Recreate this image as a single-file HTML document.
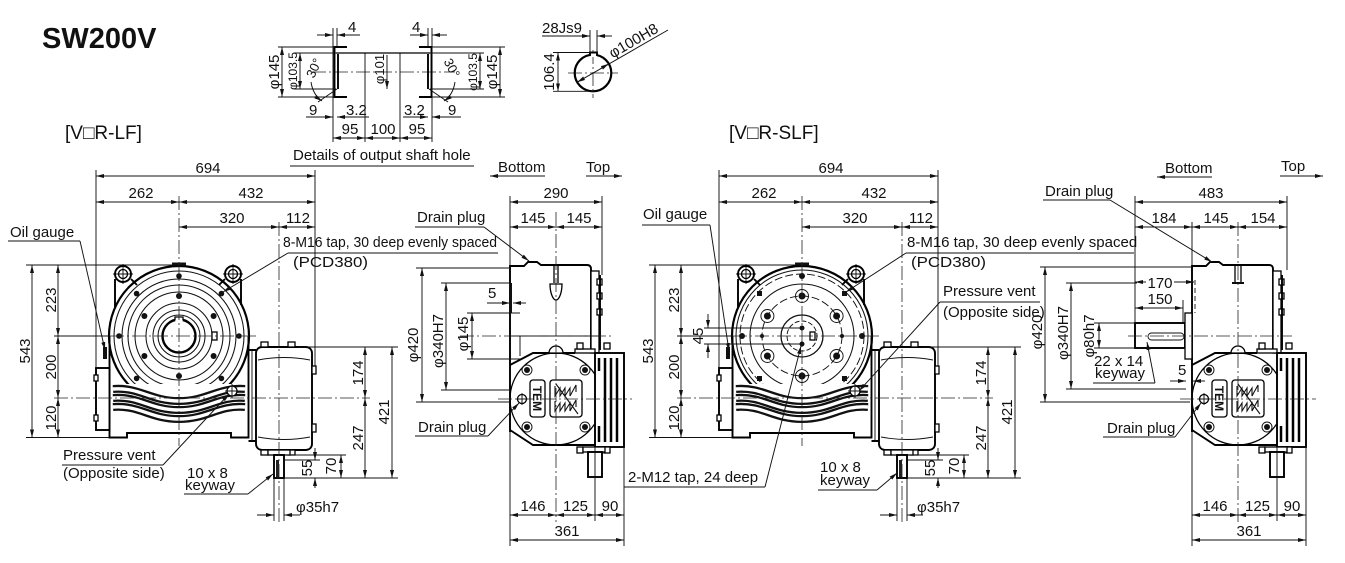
<!DOCTYPE html>
<html><head><meta charset="utf-8">
<style>
html,body{margin:0;padding:0;background:#fff;}
svg{display:block}
.t{stroke:#111;stroke-width:.95;fill:none}
.k{stroke:#000;stroke-width:1.9;fill:none}
.m{stroke:#000;stroke-width:1.3;fill:none}
.w{fill:#fff}
.c{stroke:#222;stroke-width:.8;fill:none;stroke-dasharray:14 3 2 3}
.ds{stroke:#111;stroke-width:.9;fill:none;stroke-dasharray:5 3}
.dm{stroke:#111;stroke-width:.95;fill:none;marker-start:url(#ar);marker-end:url(#ar)}
.da{stroke:#111;stroke-width:.95;fill:none;marker-end:url(#ar)}
.f{fill:#111}
text{font-family:"Liberation Sans",Arial,sans-serif;font-size:15px;fill:#111}
.mid{text-anchor:middle}
.s12{font-size:12px}
</style></head><body>
<svg width="1345" height="563" viewBox="0 0 1345 563" xmlns="http://www.w3.org/2000/svg">
<defs>
<marker id="ar" viewBox="0 0 8 4" refX="8" refY="2" markerWidth="8" markerHeight="4" markerUnits="userSpaceOnUse" orient="auto-start-reverse"><path d="M0,0L8,2L0,4z" fill="#111"/></marker>
</defs>
<rect width="1345" height="563" fill="#fff"/>

<!-- ===== Titles ===== -->
<text x="42" y="48" style="font-size:29px;font-weight:bold;fill:#111">SW200V</text>
<text x="65" y="139" style="font-size:19px">[V□R-LF]</text>
<text x="729" y="139" style="font-size:19px">[V□R-SLF]</text>

<!-- ===== Output shaft hole detail ===== -->
<line class="c" x1="312" y1="72" x2="455" y2="72"/>
<line class="t" x1="333" y1="28" x2="333" y2="142"/>
<line class="t" x1="337" y1="28" x2="337" y2="47"/>
<line class="t" x1="432" y1="28" x2="432" y2="142"/>
<line class="t" x1="428" y1="28" x2="428" y2="47"/>
<line class="t" x1="365" y1="53" x2="365" y2="142"/>
<line class="t" x1="400" y1="53" x2="400" y2="142"/>
<line class="m" x1="336" y1="53" x2="430" y2="53"/>
<path class="k" d="M347,47H334.5V97H347"/>
<path class="k" d="M419,47H431.5V97H419"/>
<line class="k" x1="338" y1="54" x2="338" y2="89"/>
<line class="k" x1="428" y1="54" x2="428" y2="89"/>
<line class="t" x1="278" y1="47" x2="333" y2="47"/>
<line class="t" x1="278" y1="97" x2="333" y2="97"/>
<line class="t" x1="294" y1="53" x2="336" y2="53"/>
<line class="t" x1="294" y1="89" x2="336" y2="89"/>
<line class="t" x1="432" y1="47" x2="505" y2="47"/>
<line class="t" x1="432" y1="97" x2="505" y2="97"/>
<line class="t" x1="430" y1="53" x2="484" y2="53"/>
<line class="t" x1="430" y1="89" x2="484" y2="89"/>
<line class="dm" x1="282" y1="47" x2="282" y2="97"/>
<text class="mid" transform="translate(279,72) rotate(-90)">φ145</text>
<line class="dm" x1="300" y1="53" x2="300" y2="89"/>
<text class="mid s12" transform="translate(297,71) rotate(-90)">φ103.5</text>
<line class="da" x1="387" y1="55" x2="387" y2="89"/>
<text class="mid" style="font-size:13px" transform="translate(384,69) rotate(-90)">φ101</text>
<line class="dm" x1="480" y1="53" x2="480" y2="89"/>
<text class="mid s12" transform="translate(477,72) rotate(-90)">φ103.5</text>
<line class="dm" x1="500" y1="47" x2="500" y2="97"/>
<text class="mid" transform="translate(497,72) rotate(-90)">φ145</text>
<line class="t" x1="318" y1="102" x2="337" y2="89"/>
<path class="da" d="M311,82 Q313,95 322,101"/>
<text class="mid" style="font-size:13px" transform="translate(318,70) rotate(-65)">30°</text>
<line class="t" x1="448" y1="102" x2="429" y2="89"/>
<path class="da" d="M455,82 Q453,95 444,101"/>
<text class="mid" style="font-size:13px" transform="translate(448,70) rotate(62)">30°</text>
<line class="da" x1="317" y1="35" x2="333" y2="35"/>
<line class="da" x1="360" y1="35" x2="337" y2="35"/>
<text x="348" y="32">4</text>
<line class="da" x1="410" y1="35" x2="428" y2="35"/>
<line class="da" x1="447" y1="35" x2="432" y2="35"/>
<text x="412" y="32">4</text>
<line class="da" x1="306" y1="117" x2="333" y2="117"/>
<line class="da" x1="369" y1="117" x2="337" y2="117"/>
<text x="309" y="115">9</text>
<text x="346" y="115">3.2</text>
<line class="da" x1="403" y1="117" x2="428" y2="117"/>
<line class="da" x1="461" y1="117" x2="432" y2="117"/>
<text x="404" y="115">3.2</text>
<text x="448" y="115">9</text>
<line class="dm" x1="333" y1="138" x2="365" y2="138"/>
<line class="dm" x1="365" y1="138" x2="400" y2="138"/>
<line class="dm" x1="400" y1="138" x2="432" y2="138"/>
<text class="mid" x="350" y="134">95</text>
<text class="mid" x="383" y="134">100</text>
<text class="mid" x="417" y="134">95</text>
<text x="293" y="160">Details of output shaft hole</text>
<line class="t" x1="290" y1="166" x2="474" y2="166"/>

<!-- key circle -->
<line class="c" x1="568" y1="73" x2="618" y2="73"/>
<line class="c" x1="593" y1="50" x2="593" y2="98"/>
<circle class="k" cx="593" cy="73" r="18.3" style="stroke-width:2.2"/>
<rect x="590.5" y="52" width="6.5" height="5" fill="#fff"/>
<path class="k" d="M590,56V52.5H597V56"/>
<line class="t" x1="590" y1="30" x2="590" y2="52"/>
<line class="t" x1="597" y1="30" x2="597" y2="52"/>
<line class="da" x1="542" y1="36" x2="590" y2="36"/>
<line class="da" x1="612" y1="36" x2="597" y2="36"/>
<text x="542" y="33">28Js9</text>
<line class="t" x1="553" y1="52.5" x2="590" y2="52.5"/>
<line class="t" x1="553" y1="91.3" x2="594" y2="91.3"/>
<line class="dm" x1="558" y1="52.5" x2="558" y2="91.3"/>
<text class="mid" transform="translate(554,72) rotate(-90)">106.4</text>
<line class="t" x1="577.2" y1="82.2" x2="668" y2="30" style="marker-start:url(#ar)"/>
<line class="t" x1="608.8" y1="63.8" x2="600" y2="69" style="marker-start:url(#ar)"/>
<text class="mid" transform="translate(636,45) rotate(-30)">φ100H8</text>

<!-- ===== FRONT VIEW (shared parts A) ===== -->
<g id="fvA">
<line class="t" x1="113" y1="274" x2="133" y2="274"/>
<line class="t" x1="123" y1="264" x2="123" y2="284"/>
<line class="t" x1="223" y1="274" x2="243" y2="274"/>
<line class="t" x1="233" y1="264" x2="233" y2="284"/>
<path class="k" d="M115,279V307M131,279L137,285"/>
<path class="k" d="M241,279V305M225,279L219,285"/>
<circle class="k" cx="123" cy="274" r="8"/>
<circle class="m" cx="123" cy="274" r="4.5"/>
<circle class="k" cx="233" cy="274" r="8"/>
<circle class="m" cx="233" cy="274" r="4.5"/>
<circle class="k" cx="179" cy="336" r="70" style="stroke-width:2.2"/>
<rect x="172" y="262.5" width="14" height="3" fill="#111"/>
</g>

<!-- LF rings -->
<g class="t" style="stroke-width:1.05">
<circle cx="179" cy="336" r="65"/>
<circle cx="179" cy="336" r="57"/>
<circle cx="179" cy="336" r="51"/>
<circle cx="179" cy="336" r="44"/>
<circle cx="179" cy="336" r="33"/>
<circle cx="179" cy="336" r="26"/>
<circle cx="179" cy="336" r="21"/>
</g>
<circle class="k" cx="179" cy="336" r="16.5" style="stroke-width:2.4"/>
<rect x="175" y="317" width="8" height="4" fill="#fff"/>
<path class="m" d="M175,320.5V317H183V320.5"/>
<rect class="m" x="212" y="332" width="5" height="8"/>
<g class="f">
<circle cx="179" cy="276" r="2.8"/><circle cx="221.4" cy="293.6" r="2.8"/><circle cx="239" cy="336" r="2.8"/><circle cx="221.4" cy="378.4" r="2.8"/>
<circle cx="179" cy="396" r="2.8"/><circle cx="136.6" cy="378.4" r="2.8"/><circle cx="119" cy="336" r="2.8"/><circle cx="136.6" cy="293.6" r="2.8"/>
<circle cx="179" cy="296" r="3"/><circle cx="213.6" cy="316" r="3"/><circle cx="213.6" cy="356" r="3"/><circle cx="179" cy="376" r="3"/><circle cx="144.4" cy="356" r="3"/><circle cx="144.4" cy="316" r="3"/>
</g>

<!-- ===== FRONT VIEW (shared parts B) ===== -->
<g id="fvB">
<rect x="110.5" y="384" width="137.5" height="49.5" fill="#fff"/>
<g fill="none" stroke="#111" stroke-width="8">
<path d="M113,389 C140,387 150,401 179,401 C208,401 218,387 245,389"/>
<path d="M113,398 C140,396 150,410 179,410 C208,410 218,396 245,398"/>
<path d="M113,407 C140,405 150,419 179,419 C208,419 218,405 245,407"/>
</g>
<g fill="none" stroke="#fff" stroke-width="3.4">
<path d="M113,389 C140,387 150,401 179,401 C208,401 218,387 245,389"/>
<path d="M113,398 C140,396 150,410 179,410 C208,410 218,396 245,398"/>
<path d="M113,407 C140,405 150,419 179,419 C208,419 218,405 245,407"/>
</g>
<path class="k" d="M109.5,336V437.5H127V433H231V437.5H248.5V336"/>
<rect class="k w" x="96" y="368" width="13.5" height="62"/>
<rect class="m w" x="94" y="375" width="4" height="6"/>
<rect class="m w" x="94" y="415" width="4" height="6"/>
<rect x="103" y="347" width="4" height="12" fill="#111"/>
<path class="k" d="M248.5,350H256M248.5,441H256"/>
<line class="t" x1="252" y1="350" x2="252" y2="441"/>
<rect class="k w" x="256" y="347" width="56" height="103" rx="6"/>
<path class="t" d="M258,360 Q284,355 310,360"/>
<path class="t" d="M258,437 Q284,442 310,437"/>
<rect class="m w" x="261" y="342" width="7" height="5"/>
<rect class="m w" x="288" y="342" width="7" height="5"/>
<rect class="m w" x="261" y="450" width="7" height="5"/>
<rect class="m w" x="288" y="450" width="7" height="5"/>
<rect class="m w" x="312" y="366" width="4" height="8"/>
<rect class="m w" x="312" y="424" width="4" height="8"/>
<rect class="m w" x="268" y="450" width="22" height="5"/>
<rect class="k w" x="274" y="455" width="10" height="23"/>
<rect x="276" y="460" width="3" height="17" fill="#222"/>
<circle class="m w" cx="232" cy="391" r="5"/>
<path class="t" d="M225,391H239M232,384V398"/>
</g>

<!-- LF center lines -->
<line class="c" x1="179" y1="196" x2="179" y2="446"/>
<line class="c" x1="279" y1="222" x2="279" y2="525"/>
<line class="t" x1="54" y1="336" x2="110" y2="336"/>
<line class="c" x1="110" y1="336" x2="258" y2="336"/>
<line class="c" x1="54" y1="398" x2="370" y2="398"/>

<!-- LF dims -->
<line class="t" x1="96" y1="170" x2="96" y2="368"/>
<line class="t" x1="315" y1="170" x2="315" y2="366"/>
<line class="dm" x1="96" y1="176" x2="315" y2="176"/>
<text class="mid" x="208" y="173">694</text>
<line class="dm" x1="96" y1="202" x2="179" y2="202"/>
<line class="dm" x1="179" y1="202" x2="315" y2="202"/>
<text class="mid" x="141" y="198">262</text>
<text class="mid" x="251" y="198">432</text>
<line class="dm" x1="179" y1="227" x2="279" y2="227"/>
<line class="dm" x1="279" y1="227" x2="315" y2="227"/>
<text class="mid" x="232" y="223">320</text>
<text class="mid" x="298" y="223">112</text>
<line class="t" x1="26" y1="265" x2="178" y2="265"/>
<line class="t" x1="26" y1="437.5" x2="109" y2="437.5"/>
<line class="dm" x1="32" y1="265" x2="32" y2="437.5"/>
<text class="mid" transform="translate(30,351) rotate(-90)">543</text>
<line class="dm" x1="58" y1="265" x2="58" y2="336"/>
<line class="dm" x1="58" y1="336" x2="58" y2="398"/>
<line class="dm" x1="58" y1="398" x2="58" y2="437.5"/>
<text class="mid" transform="translate(56,300) rotate(-90)">223</text>
<text class="mid" transform="translate(56,367) rotate(-90)">200</text>
<text class="mid" transform="translate(56,418) rotate(-90)">120</text>
<line class="t" x1="298" y1="347" x2="398" y2="347"/>
<line class="t" x1="285" y1="478" x2="398" y2="478"/>
<line class="t" x1="285" y1="455" x2="346" y2="455"/>
<line class="t" x1="285" y1="460" x2="320" y2="460"/>
<line class="dm" x1="365" y1="347" x2="365" y2="398"/>
<line class="dm" x1="365" y1="398" x2="365" y2="478"/>
<text class="mid" transform="translate(363,373) rotate(-90)">174</text>
<text class="mid" transform="translate(363,438) rotate(-90)">247</text>
<line class="dm" x1="392" y1="347" x2="392" y2="478"/>
<text class="mid" transform="translate(389,412) rotate(-90)">421</text>
<line class="dm" x1="341" y1="455" x2="341" y2="478"/>
<text class="mid" transform="translate(336,466) rotate(-90)">70</text>
<line class="da" x1="315" y1="448" x2="315" y2="460"/>
<line class="da" x1="315" y1="488" x2="315" y2="478"/>
<text class="mid" transform="translate(312,468) rotate(-90)">55</text>
<line class="t" x1="274" y1="478" x2="274" y2="521"/>
<line class="t" x1="284" y1="478" x2="284" y2="521"/>
<line class="da" x1="257" y1="515" x2="274" y2="515"/>
<line class="da" x1="300" y1="515" x2="284" y2="515"/>
<text x="296" y="512">φ35h7</text>

<!-- LF labels -->
<text x="10" y="237">Oil gauge</text>
<line class="t" x1="8" y1="241" x2="80" y2="241"/>
<line class="da" x1="80" y1="241" x2="105" y2="350"/>
<text x="283" y="247" textLength="214" lengthAdjust="spacingAndGlyphs">8-M16 tap, 30 deep evenly spaced</text>
<line class="t" x1="288" y1="253" x2="498" y2="253"/>
<line class="da" x1="288" y1="253" x2="223" y2="292"/>
<text x="293" y="267" textLength="75" lengthAdjust="spacingAndGlyphs">(PCD380)</text>
<text x="63" y="460">Pressure vent</text>
<line class="t" x1="62" y1="465" x2="163" y2="465"/>
<text x="63" y="478">(Opposite side)</text>
<line class="da" x1="163" y1="465" x2="229" y2="394"/>
<text x="187" y="478">10 x 8</text>
<text x="185" y="490">keyway</text>
<line class="t" x1="184" y1="494" x2="248" y2="494"/>
<line class="da" x1="248" y1="494" x2="273" y2="474"/>

<!-- ===== SLF FRONT VIEW ===== -->
<use href="#fvA" transform="translate(623,0)"/>
<g class="t" style="stroke-width:1.05">
<circle cx="802" cy="336" r="66"/>
<circle cx="802" cy="336" r="52"/>
<circle cx="802" cy="336" r="21" style="stroke-width:1.3"/>
</g>
<circle cx="802" cy="336" r="62" class="t" style="stroke-dasharray:8 3"/>
<circle cx="802" cy="336" r="40" class="t" style="stroke-dasharray:8 3"/>
<circle cx="802" cy="336" r="15" class="t" style="stroke-dasharray:5 2"/>
<g class="t">
<circle cx="802" cy="296" r="6.5"/><circle cx="836.6" cy="316" r="6.5"/><circle cx="836.6" cy="356" r="6.5"/><circle cx="802" cy="376" r="6.5"/><circle cx="767.4" cy="356" r="6.5"/><circle cx="767.4" cy="316" r="6.5"/>
</g>
<g class="f">
<circle cx="802" cy="296" r="3.5"/><circle cx="836.6" cy="316" r="3.5"/><circle cx="836.6" cy="356" r="3.5"/><circle cx="802" cy="376" r="3.5"/><circle cx="767.4" cy="356" r="3.5"/><circle cx="767.4" cy="316" r="3.5"/>
<circle cx="802" cy="276" r="3"/><circle cx="862" cy="336" r="3"/><circle cx="802" cy="396" r="3"/><circle cx="742" cy="336" r="3"/>
<rect x="842" y="291" width="5" height="5"/><rect x="842" y="376" width="5" height="5"/><rect x="757" y="376" width="5" height="5"/><rect x="757" y="291" width="5" height="5"/>
<circle cx="762" cy="336" r="2"/><circle cx="842" cy="336" r="2"/>
<circle cx="802" cy="328" r="2.5"/><circle cx="802" cy="344" r="2.5"/>
</g>
<rect class="m" x="810" y="332" width="5" height="8"/>
<use href="#fvB" transform="translate(623,0)"/>

<!-- SLF center lines -->
<line class="c" x1="802" y1="196" x2="802" y2="446"/>
<line class="c" x1="902" y1="222" x2="902" y2="525"/>
<line class="t" x1="677" y1="336" x2="733" y2="336"/>
<line class="c" x1="733" y1="336" x2="882" y2="336"/>
<line class="c" x1="677" y1="398" x2="993" y2="398"/>

<!-- SLF dims -->
<line class="t" x1="719" y1="170" x2="719" y2="368"/>
<line class="t" x1="938" y1="170" x2="938" y2="366"/>
<line class="dm" x1="719" y1="176" x2="938" y2="176"/>
<text class="mid" x="831" y="173">694</text>
<line class="dm" x1="719" y1="202" x2="802" y2="202"/>
<line class="dm" x1="802" y1="202" x2="938" y2="202"/>
<text class="mid" x="764" y="198">262</text>
<text class="mid" x="874" y="198">432</text>
<line class="dm" x1="802" y1="227" x2="902" y2="227"/>
<line class="dm" x1="902" y1="227" x2="938" y2="227"/>
<text class="mid" x="855" y="223">320</text>
<text class="mid" x="921" y="223">112</text>
<line class="t" x1="649" y1="265" x2="801" y2="265"/>
<line class="t" x1="649" y1="437.5" x2="732" y2="437.5"/>
<line class="dm" x1="655" y1="265" x2="655" y2="437.5"/>
<text class="mid" transform="translate(653,351) rotate(-90)">543</text>
<line class="dm" x1="681" y1="265" x2="681" y2="336"/>
<line class="dm" x1="681" y1="336" x2="681" y2="398"/>
<line class="dm" x1="681" y1="398" x2="681" y2="437.5"/>
<text class="mid" transform="translate(679,300) rotate(-90)">223</text>
<text class="mid" transform="translate(679,367) rotate(-90)">200</text>
<text class="mid" transform="translate(679,418) rotate(-90)">120</text>
<line class="t" x1="704" y1="328" x2="800" y2="328"/>
<line class="t" x1="704" y1="344" x2="800" y2="344"/>
<line class="da" x1="708" y1="314" x2="708" y2="328"/>
<line class="da" x1="708" y1="358" x2="708" y2="344"/>
<text class="mid" transform="translate(703,336) rotate(-90)">45</text>
<line class="t" x1="921" y1="347" x2="1021" y2="347"/>
<line class="t" x1="908" y1="478" x2="1021" y2="478"/>
<line class="t" x1="908" y1="455" x2="969" y2="455"/>
<line class="t" x1="908" y1="460" x2="943" y2="460"/>
<line class="dm" x1="988" y1="347" x2="988" y2="398"/>
<line class="dm" x1="988" y1="398" x2="988" y2="478"/>
<text class="mid" transform="translate(986,373) rotate(-90)">174</text>
<text class="mid" transform="translate(986,438) rotate(-90)">247</text>
<line class="dm" x1="1015" y1="347" x2="1015" y2="478"/>
<text class="mid" transform="translate(1012,412) rotate(-90)">421</text>
<line class="dm" x1="964" y1="455" x2="964" y2="478"/>
<text class="mid" transform="translate(959,466) rotate(-90)">70</text>
<line class="da" x1="938" y1="448" x2="938" y2="460"/>
<line class="da" x1="938" y1="488" x2="938" y2="478"/>
<text class="mid" transform="translate(935,468) rotate(-90)">55</text>
<line class="t" x1="897" y1="478" x2="897" y2="521"/>
<line class="t" x1="907" y1="478" x2="907" y2="521"/>
<line class="da" x1="880" y1="515" x2="897" y2="515"/>
<line class="da" x1="923" y1="515" x2="907" y2="515"/>
<text x="917" y="512">φ35h7</text>

<!-- SLF labels -->
<text x="643" y="219">Oil gauge</text>
<line class="t" x1="642" y1="225" x2="710" y2="225"/>
<line class="da" x1="710" y1="225" x2="729" y2="351"/>
<text x="907" y="247">8-M16 tap, 30 deep evenly spaced</text>
<line class="t" x1="906" y1="253" x2="1134" y2="253"/>
<line class="da" x1="906" y1="253" x2="846" y2="292"/>
<text x="911" y="267" textLength="75" lengthAdjust="spacingAndGlyphs">(PCD380)</text>
<text x="943" y="296">Pressure vent</text>
<line class="t" x1="940" y1="302" x2="1040" y2="302"/>
<text x="943" y="317">(Opposite side)</text>
<line class="da" x1="940" y1="302" x2="859" y2="391"/>
<text x="820" y="472">10 x 8</text>
<text x="820" y="485">keyway</text>
<line class="t" x1="818" y1="490" x2="877" y2="490"/>
<line class="da" x1="877" y1="490" x2="897" y2="473"/>
<text x="628" y="482">2-M12 tap, 24 deep</text>
<line class="t" x1="624" y1="487" x2="765" y2="487"/>
<line class="da" x1="765" y1="487" x2="801" y2="346"/>

<!-- ===== SIDE VIEW (shared) ===== -->
<g id="sv">
<path class="k" d="M510,432V266H524L528,262H537L541,265H587Q591,265 591,269V353"/>
<rect class="m w" x="591" y="271" width="8" height="82"/>
<rect class="m w" x="597" y="279" width="5" height="6"/>
<rect class="m w" x="597" y="293" width="5" height="6"/>
<rect class="m w" x="597" y="309" width="5" height="6"/>
<line class="k" x1="600" y1="275" x2="600" y2="350"/>
<circle class="m" cx="556" cy="399" r="46"/>
<path class="k" d="M510,365L533,353H575"/>
<path class="k" d="M510,430L533,445H595"/>
<path class="m w" d="M549,353A7,7 0 0 1 563,353Z"/>
<rect class="m w" x="575" y="349" width="20" height="4"/>
<rect class="m w" x="577" y="343" width="6" height="6"/>
<rect class="m w" x="604" y="343" width="6" height="6"/>
<rect class="k w" x="595" y="353" width="29" height="94"/>
<g stroke="#000" stroke-width="2.5">
<line x1="599" y1="358" x2="599" y2="371"/><line x1="599" y1="426" x2="599" y2="442"/>
<line x1="605" y1="358" x2="605" y2="442"/>
<line x1="611" y1="358" x2="611" y2="442"/>
<line x1="617" y1="358" x2="617" y2="442"/>
</g>
<rect class="m w" x="577" y="447" width="6" height="6"/>
<rect class="m w" x="604" y="447" width="6" height="6"/>
<rect class="m w" x="583" y="447" width="22" height="5"/>
<rect class="k w" x="588" y="452" width="14" height="25"/>
<g class="t"><circle cx="527" cy="370" r="5"/><circle cx="585" cy="370" r="5"/><circle cx="527" cy="427" r="5"/><circle cx="585" cy="427" r="5"/></g>
<g class="f"><circle cx="527" cy="370" r="3"/><circle cx="585" cy="370" r="3"/><circle cx="527" cy="427" r="3"/><circle cx="585" cy="427" r="3"/></g>
<circle class="m" cx="522" cy="399" r="4.5"/>
<path class="t" d="M516,399H528M522,393V405"/>
<rect class="m" x="530" y="380" width="15" height="37" rx="3"/>
<rect class="m" x="550" y="380" width="32" height="37" rx="3"/>
<path class="t" style="stroke-width:1.1" d="M555,386V396L560,388V396L565,388V396L570,388V396L576,385V392M555,401V411L560,403V411L565,403V411L570,403V411L576,400V407M556,384L578,414"/>
</g>
<text class="mid" style="font-size:12px;font-weight:bold" transform="translate(533,398.5) rotate(90)">TEM</text>

<!-- LF side specifics -->
<rect x="509" y="283" width="3" height="30" fill="#111"/>
<line class="t" x1="520" y1="336" x2="520" y2="356"/>
<line class="t" x1="510" y1="336" x2="600" y2="336"/>
<path class="m" d="M554,266V283M558,266V283"/>
<path class="m w" d="M550,284H562C562,293 559,300 556,300C553,300 550,293 550,284Z"/>
<line class="c" x1="556" y1="212" x2="556" y2="522"/>
<line class="c" x1="498" y1="399" x2="632" y2="399"/>
<line class="c" x1="460" y1="336" x2="612" y2="336"/>

<!-- LF side dims -->
<line class="t" x1="510" y1="196" x2="510" y2="266"/>
<line class="t" x1="510" y1="432" x2="510" y2="546"/>
<line class="t" x1="602" y1="196" x2="602" y2="275"/>
<line class="t" x1="595" y1="447" x2="595" y2="521"/>
<line class="t" x1="624" y1="447" x2="624" y2="546"/>
<line class="dm" x1="510" y1="202" x2="602" y2="202"/>
<text class="mid" x="556" y="198">290</text>
<line class="dm" x1="510" y1="227" x2="556" y2="227"/>
<line class="dm" x1="556" y1="227" x2="602" y2="227"/>
<text class="mid" x="533" y="223">145</text>
<text class="mid" x="579" y="223">145</text>
<line class="dm" x1="510" y1="515" x2="556" y2="515"/>
<line class="dm" x1="556" y1="515" x2="595" y2="515"/>
<line class="dm" x1="595" y1="515" x2="624" y2="515"/>
<text class="mid" x="533" y="511">146</text>
<text class="mid" x="575.5" y="511">125</text>
<text class="mid" x="610" y="511">90</text>
<line class="dm" x1="510" y1="540" x2="624" y2="540"/>
<text class="mid" x="567" y="536">361</text>
<text x="498" y="172">Bottom</text>
<line class="da" x1="545" y1="176" x2="490" y2="176"/>
<text x="586" y="172">Top</text>
<line class="da" x1="586" y1="176" x2="622" y2="176"/>
<line class="t" x1="416" y1="268" x2="510" y2="268"/>
<line class="t" x1="416" y1="402" x2="510" y2="402"/>
<line class="dm" x1="422" y1="268" x2="422" y2="402"/>
<text class="mid" transform="translate(418,345) rotate(-90)">φ420</text>
<line class="t" x1="441" y1="283" x2="510" y2="283"/>
<line class="t" x1="441" y1="390" x2="510" y2="390"/>
<line class="dm" x1="446" y1="283" x2="446" y2="390"/>
<text class="mid" transform="translate(443,341) rotate(-90)">φ340H7</text>
<line class="t" x1="467" y1="313" x2="520" y2="313"/>
<line class="t" x1="467" y1="359" x2="520" y2="359"/>
<line class="dm" x1="472" y1="313" x2="472" y2="359"/>
<text class="mid" transform="translate(468,334) rotate(-90)">φ145</text>
<line class="da" x1="487" y1="303" x2="510" y2="303"/>
<line class="da" x1="526" y1="303" x2="513" y2="303"/>
<text x="488" y="298">5</text>
<text x="417" y="222">Drain plug</text>
<line class="t" x1="415" y1="227" x2="484" y2="227"/>
<line class="da" x1="484" y1="227" x2="529" y2="261"/>
<text x="418" y="432">Drain plug</text>
<line class="t" x1="415" y1="436" x2="488" y2="436"/>
<line class="da" x1="488" y1="436" x2="519" y2="403"/>

<!-- ===== SLF SIDE VIEW ===== -->
<use href="#sv" transform="translate(682,0)"/>
<text class="mid" style="font-size:12px;font-weight:bold" transform="translate(1215,398.5) rotate(90)">TEM</text>
<path class="m" d="M1235,266V282M1241,266V282"/>
<path class="k" d="M1232,283H1244"/>
<rect class="k w" x="1135" y="323" width="50" height="25"/>
<rect class="t" x="1148" y="333" width="36" height="7" rx="3.5"/>
<rect class="m w" x="1185" y="313" width="7" height="46"/>
<line class="ds" x1="1195" y1="280" x2="1195" y2="313"/>
<line class="c" x1="1238" y1="222" x2="1238" y2="522"/>
<line class="c" x1="1180" y1="399" x2="1316" y2="399"/>
<line class="c" x1="1128" y1="336" x2="1292" y2="336"/>

<!-- SLF side dims -->
<line class="t" x1="1135" y1="196" x2="1135" y2="323"/>
<line class="t" x1="1192" y1="222" x2="1192" y2="265"/>
<line class="t" x1="1192" y1="432" x2="1192" y2="546"/>
<line class="t" x1="1287" y1="196" x2="1287" y2="270"/>
<line class="t" x1="1277" y1="447" x2="1277" y2="521"/>
<line class="t" x1="1306" y1="447" x2="1306" y2="546"/>
<line class="t" x1="1183" y1="300" x2="1183" y2="323"/>
<line class="dm" x1="1135" y1="202" x2="1287" y2="202"/>
<text class="mid" x="1211" y="198">483</text>
<line class="dm" x1="1135" y1="227" x2="1192" y2="227"/>
<line class="dm" x1="1192" y1="227" x2="1238" y2="227"/>
<line class="dm" x1="1238" y1="227" x2="1287" y2="227"/>
<text class="mid" x="1164" y="223">184</text>
<text class="mid" x="1216" y="223">145</text>
<text class="mid" x="1263" y="223">154</text>
<line class="da" x1="1146" y1="282" x2="1135" y2="282"/>
<line class="da" x1="1174" y1="282" x2="1194" y2="282"/>
<text class="mid" x="1160" y="288">170</text>
<line class="dm" x1="1135" y1="308" x2="1183" y2="308"/>
<text class="mid" x="1160" y="304">150</text>
<line class="t" x1="1040" y1="267" x2="1192" y2="267"/>
<line class="t" x1="1040" y1="402" x2="1190" y2="402"/>
<line class="dm" x1="1045" y1="267" x2="1045" y2="402"/>
<text class="mid" transform="translate(1042,332) rotate(-90)">φ420</text>
<line class="t" x1="1066" y1="283" x2="1137" y2="283"/>
<line class="t" x1="1066" y1="389" x2="1186" y2="389"/>
<line class="dm" x1="1071" y1="283" x2="1071" y2="389"/>
<text class="mid" transform="translate(1068,333) rotate(-90)">φ340H7</text>
<line class="t" x1="1094" y1="323" x2="1135" y2="323"/>
<line class="t" x1="1094" y1="348" x2="1135" y2="348"/>
<line class="dm" x1="1099" y1="323" x2="1099" y2="348"/>
<text class="mid" transform="translate(1094,336) rotate(-90)">φ80h7</text>
<text x="1094" y="366">22 x 14</text>
<text x="1095" y="378">keyway</text>
<line class="t" x1="1093" y1="383" x2="1155" y2="383"/>
<line class="da" x1="1155" y1="383" x2="1147" y2="342"/>
<line class="da" x1="1170" y1="381" x2="1186" y2="381"/>
<line class="da" x1="1205" y1="381" x2="1193" y2="381"/>
<text x="1178" y="375">5</text>
<line class="dm" x1="1192" y1="515" x2="1238" y2="515"/>
<line class="dm" x1="1238" y1="515" x2="1277" y2="515"/>
<line class="dm" x1="1277" y1="515" x2="1306" y2="515"/>
<text class="mid" x="1215" y="511">146</text>
<text class="mid" x="1257.5" y="511">125</text>
<text class="mid" x="1292" y="511">90</text>
<line class="dm" x1="1192" y1="540" x2="1306" y2="540"/>
<text class="mid" x="1249" y="536">361</text>
<text x="1165" y="173">Bottom</text>
<line class="da" x1="1212" y1="177" x2="1157" y2="177"/>
<text x="1281" y="171">Top</text>
<line class="da" x1="1280" y1="176" x2="1323" y2="176"/>
<text x="1045" y="196">Drain plug</text>
<line class="t" x1="1043" y1="200" x2="1110" y2="200"/>
<line class="da" x1="1110" y1="200" x2="1212" y2="262"/>
<text x="1107" y="433">Drain plug</text>
<line class="t" x1="1103" y1="437" x2="1175" y2="437"/>
<line class="da" x1="1175" y1="437" x2="1201" y2="403"/>
</svg>
</body></html>
